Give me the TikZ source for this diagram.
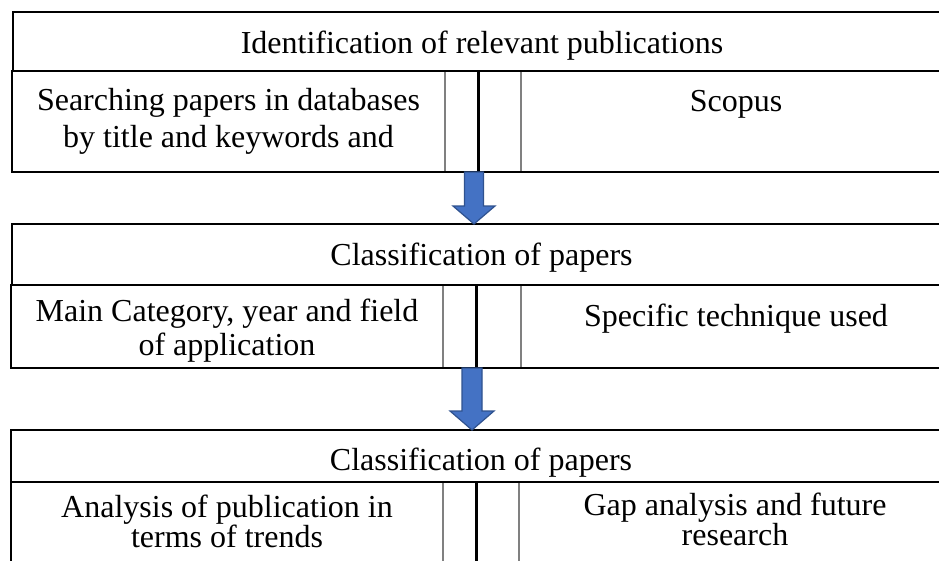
\documentclass[tikz,border=0pt]{standalone}
\usepackage{fontspec}
\setmainfont{Liberation Serif}
\usetikzlibrary{calc}
\definecolor{arrowfill}{HTML}{4472C4}
\definecolor{arrowedge}{HTML}{2F528F}
\definecolor{gridgray}{HTML}{808080}

\begin{document}
\begin{tikzpicture}[x=1pt,y=-1pt,
  headbox/.style={draw=black, line width=2.6pt, rectangle, inner sep=0pt, outer sep=0pt, anchor=north west},
  cell/.style={draw=gridgray, line width=1.3pt, rectangle, inner sep=0pt, outer sep=0pt, anchor=north west},
  rowframe/.style={draw=black, line width=2pt},
  midrule/.style={draw=black, line width=3pt},
  label/.style={inner sep=0pt, outer sep=0pt, align=center, anchor=base},
  blockarrow/.style={fill=arrowfill, draw=arrowedge, line width=1.2pt, line join=miter}
]
\useasboundingbox (0,0) rectangle (939,560);
\clip (0,0) rectangle (939,560);

% ---------- stage 1 ----------
\node[cell, minimum width=433pt, minimum height=101pt] (a1) at (12,71) {};
\node[cell, minimum width=33pt,  minimum height=101pt] (b1) at (445,71) {};
\node[cell, minimum width=43pt,  minimum height=101pt] (c1) at (478,71) {};
\node[cell, minimum width=430pt, minimum height=101pt] (d1) at (521,71) {};
\draw[rowframe] (a1.north west) rectangle (d1.south east);
\draw[midrule] (b1.north east) -- (b1.south east);
\node[headbox, minimum width=938pt, minimum height=59pt] (h1) at (13,12) {};

% multi-line labels are anchored at the baseline of their last line
\node[label, font=\fontsize{32}{37}\selectfont] (t1) at ($(h1.south)+(0,-18)$) {Identification of relevant publications};
\node[label, font=\fontsize{32}{37}\selectfont] (t1a) at ($(a1.north)+(0,76)$) {Searching papers in databases\\by title and keywords and};
\node[label, font=\fontsize{32}{37}\selectfont] (t1d) at ($(d1.north)+(0,40)$) {Scopus};

% ---------- stage 2 ----------
\node[cell, minimum width=432pt, minimum height=83pt] (a2) at (11,285) {};
\node[cell, minimum width=33pt,  minimum height=83pt] (b2) at (443,285) {};
\node[cell, minimum width=45pt,  minimum height=83pt] (c2) at (476,285) {};
\node[cell, minimum width=430pt, minimum height=83pt] (d2) at (521,285) {};
\draw[rowframe] (a2.north west) rectangle (d2.south east);
\draw[midrule] (b2.north east) -- (b2.south east);
\node[headbox, minimum width=939pt, minimum height=61pt] (h2) at (12,224) {};

\node[label, font=\fontsize{32}{34}\selectfont] (t2) at ($(h2.south)+(0,-20)$) {Classification of papers};
\node[label, font=\fontsize{32}{34}\selectfont] (t2a) at ($(a2.north)+(0,70)$) {Main Category, year and field\\of application};
\node[label, font=\fontsize{32}{34}\selectfont] (t2d) at ($(d2.north)+(0,41)$) {Specific technique used};

% ---------- stage 3 ----------
\node[cell, minimum width=432pt, minimum height=120pt] (a3) at (11,482) {};
\node[cell, minimum width=33pt,  minimum height=120pt] (b3) at (443,482) {};
\node[cell, minimum width=43pt,  minimum height=120pt] (c3) at (476,482) {};
\node[cell, minimum width=432pt, minimum height=120pt] (d3) at (519,482) {};
\draw[rowframe] (a3.north west) rectangle (d3.south east);
\draw[midrule] (b3.north east) -- (b3.south east);
\node[headbox, minimum width=940pt, minimum height=52pt] (h3) at (11,430) {};

\node[label, font=\fontsize{32}{30}\selectfont] (t3) at ($(h3.south)+(0,-12)$) {Classification of papers};
\node[label, font=\fontsize{32}{30}\selectfont] (t3a) at ($(a3.north)+(0,65)$) {Analysis of publication in\\terms of trends};
\node[label, font=\fontsize{32}{30}\selectfont] (t3d) at ($(d3.north)+(0,63)$) {Gap analysis and future\\research};

% ---------- block arrows between stages ----------
\coordinate (s1) at ([xshift=-4pt]b1.south east);
\coordinate (e1) at (s1 |- h2.north);
\coordinate (s2) at ([xshift=-4pt]b2.south east);
\coordinate (e2) at (s2 |- h3.north);

\filldraw[blockarrow] ($(s1)+(-9.5,0)$) -- ($(e1)+(-9.5,-18)$) -- ($(e1)+(-21,-18)$) -- (e1)
  -- ($(e1)+(21,-18)$) -- ($(e1)+(9.5,-18)$) -- ($(s1)+(9.5,0)$) -- cycle;
\filldraw[blockarrow] ($(s2)+(-10,0)$) -- ($(e2)+(-10,-19)$) -- ($(e2)+(-22,-19)$) -- (e2)
  -- ($(e2)+(22,-19)$) -- ($(e2)+(10,-19)$) -- ($(s2)+(10,0)$) -- cycle;
\end{tikzpicture}
\end{document}
